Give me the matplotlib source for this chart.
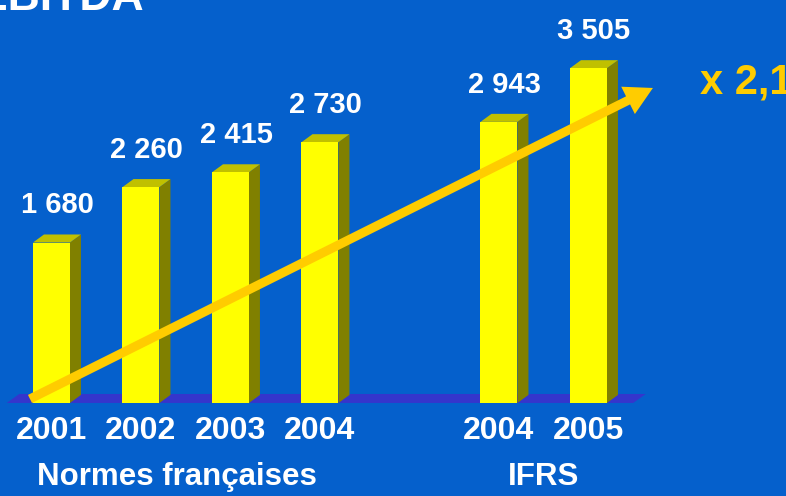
import matplotlib.pyplot as plt
from matplotlib.patches import Polygon, FancyArrowPatch
import matplotlib.transforms as mtransforms

plt.rcParams['font.family'] = ['Liberation Sans', 'DejaVu Sans']

# data (EBITDA, millions)
years = ['2001', '2002', '2003', '2004', '2004', '2005']
values = [1680, 2260, 2415, 2730, 2943, 3505]
value_labels = ['1 680', '2 260', '2 415', '2 730', '2 943', '3 505']
slots = [0, 1, 2, 3, 5, 6]
groups = ['Normes françaises', 'IFRS']
group_centers = [1.4, 5.5]
growth_label = 'x 2,1'

BG = '#0560CC'
YELLOW = '#FFFF00'
TOP = '#C0C000'
SIDE = '#808000'
FLOOR = '#3535CC'
ARROW = '#FFCC00'

bar_w = 0.413
dx, dy = 0.123, 84          # fake 3d depth

fig = plt.figure(figsize=(7.86, 4.96), dpi=100, facecolor=BG)
ax = fig.add_axes([0, 0, 1, 1])
ax.set_facecolor(BG)
ax.set_xlim(-0.575, 8.207)
ax.set_ylim(-974, 4219)
ax.axis('off')

# floor
fl, fr = slots[0] - 0.5, slots[-1] + 0.5
ax.add_patch(Polygon([(fl, 0), (fr, 0), (fr + 0.14, 94), (fl + 0.14, 94)],
                     closed=True, color=FLOOR, lw=0, zorder=1))

# bars with side and top faces
ax.bar(slots, values, width=bar_w, color=YELLOW, lw=0, zorder=3)
for x, v in zip(slots, values):
    l, r = x - bar_w / 2, x + bar_w / 2
    ax.add_patch(Polygon([(r, 0), (r + dx, dy), (r + dx, v + dy), (r, v)],
                         closed=True, color=SIDE, lw=0, zorder=2))
    ax.add_patch(Polygon([(l, v), (r, v), (r + dx, v + dy), (l + dx, v + dy)],
                         closed=True, color=TOP, lw=0, zorder=2))

for x, v, t in zip(slots, values, value_labels):
    ax.text(x + dx / 2, v + 390, t, ha='center', va='center', color='white',
            fontsize=21, fontweight='bold', zorder=5)

trans = mtransforms.blended_transform_factory(ax.transData, ax.transAxes)
for x, y in zip(slots, years):
    ax.text(x, 0.131, y, transform=trans, ha='center', va='center',
            color='white', fontsize=23, fontweight='bold')
for x, g in zip(group_centers, groups):
    ax.text(x, 0.038, g, transform=trans, ha='center', va='center',
            color='white', fontsize=22.5, fontweight='bold')

# growth arrow
arrow = FancyArrowPatch((-0.24, 42), (6.72, 3298),
                        arrowstyle='simple,head_length=2.0,head_width=2.2,tail_width=0.65',
                        mutation_scale=10, color=ARROW, lw=0, zorder=6,
                        shrinkA=0, shrinkB=0)
ax.add_patch(arrow)

fig.text(700 / 786, 1 - 83 / 496, growth_label, ha='left', va='center',
         color=ARROW, fontsize=30, fontweight='bold')
fig.text(-22 / 786, 1 - 10 / 496, 'EBITDA', ha='left', va='baseline',
         color='white', fontsize=32, fontweight='bold')

fig.savefig('out.png', dpi=100, facecolor=BG)
